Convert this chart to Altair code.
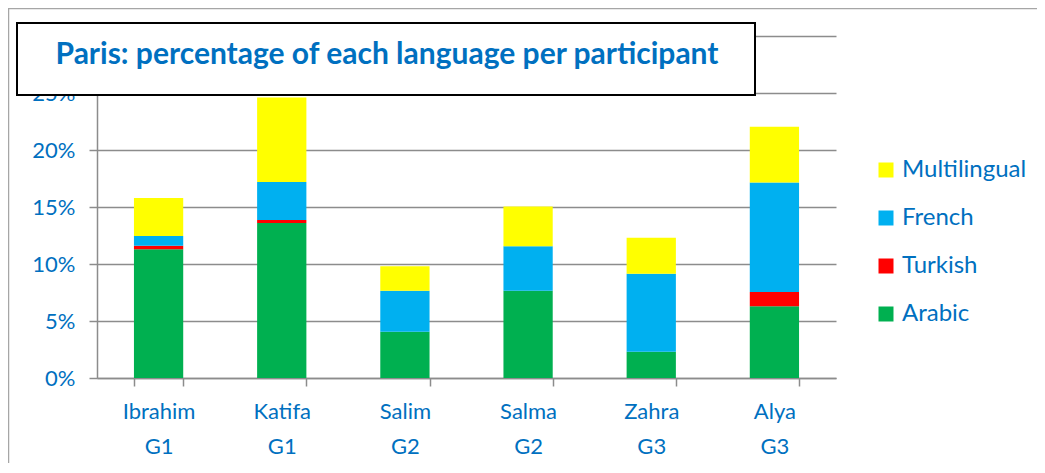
import altair as alt
import pandas as pd

participants = ["Ibrahim G1", "Katifa G1", "Salim G2", "Salma G2", "Zahra G3", "Alya G3"]
languages = ["Arabic", "Turkish", "French", "Multilingual"]
arabic = [11.3, 13.6, 4.05, 7.65, 2.3, 6.3]
turkish = [0.3, 0.25, 0.0, 0.0, 0.0, 1.25]
french = [0.85, 3.35, 3.6, 3.9, 6.85, 9.6]
multilingual = [3.35, 7.4, 2.15, 3.5, 3.15, 4.9]
colors = ["#00B050", "#FF0000", "#00B0F0", "#FFFF00"]
y_ticks = [0, 0.05, 0.10, 0.15, 0.20, 0.25, 0.30]
title_text = "Paris: percentage of each language per participant"

series = [arabic, turkish, french, multilingual]
rows = []
for li, (lang, vals) in enumerate(zip(languages, series)):
    for p, v in zip(participants, vals):
        rows.append({"participant": p, "language": lang, "value": v / 100, "order": li})
df = pd.DataFrame(rows)

FONT = "Lato"
BLUE = "#0070C0"
W, H = 739, 342

bars = alt.Chart(df).mark_bar().encode(
    x=alt.X("participant:N", sort=participants, title=None,
            scale=alt.Scale(paddingInner=0.6, paddingOuter=0.3),
            axis=alt.Axis(labelExpr="split(datum.label, ' ')", labelAngle=0,
                          tickBand="extent", grid=False, labelFontSize=22,
                          labelLineHeight=35, labelPadding=15, labelColor=BLUE,
                          labelFont=FONT, tickSize=8, domainColor="#8c8c8c",
                          tickColor="#8c8c8c", domainWidth=1.5, tickWidth=1.5)),
    y=alt.Y("value:Q", stack="zero", title=None,
            scale=alt.Scale(domain=[0, 0.30], nice=False),
            axis=alt.Axis(values=y_ticks, format=".0%", labelFontSize=22,
                          labelExpr="datum.value >= 0.29 ? '' : datum.label",
                          labelColor=BLUE, labelFont=FONT, labelPadding=14,
                          tickSize=8, grid=True, gridColor="#8c8c8c",
                          gridWidth=1.5, domainColor="#8c8c8c", tickColor="#8c8c8c",
                          domainWidth=1.5, tickWidth=1.5)),
    color=alt.Color("language:N",
                    scale=alt.Scale(domain=languages, range=colors),
                    sort=["Multilingual", "French", "Turkish", "Arabic"],
                    legend=alt.Legend(title=None, orient="none", legendX=777, legendY=122,
                                      symbolType="square", symbolSize=225,
                                      symbolStrokeWidth=0, labelFontSize=24,
                                      labelFont=FONT, labelColor=BLUE, rowPadding=24,
                                      labelOffset=4,
                                      values=["Multilingual", "French", "Turkish", "Arabic"])),
    order=alt.Order("order:Q", sort="ascending"),
)

box = alt.Chart(pd.DataFrame({"t": [title_text]})).mark_rect(
    fill="white", stroke="black", strokeWidth=2
).encode(x=alt.value(-80), x2=alt.value(658), y=alt.value(-13), y2=alt.value(59))

title = alt.Chart(pd.DataFrame({"t": [title_text]})).mark_text(
    font=FONT, fontSize=30, fontWeight="bold", color=BLUE, baseline="alphabetic", align="center"
).encode(text="t:N", x=alt.value(290), y=alt.value(28))

border = alt.Chart(pd.DataFrame({"t": [0]})).mark_rect(
    fill=None, stroke="#a6a6a6", strokeWidth=1.5
).encode(x=alt.value(-88.5), x2=alt.value(W + 400), y=alt.value(-27.5), y2=alt.value(H + 400))

chart = alt.layer(border, bars, box, title).properties(
    width=W, height=H,
    padding={"left": 89, "top": 28, "right": 201, "bottom": 85},
    autosize=alt.AutoSizeParams(type="none"),
).configure_view(stroke=None)

chart.save("out.html", embed_options={"renderer": "svg", "actions": False})
